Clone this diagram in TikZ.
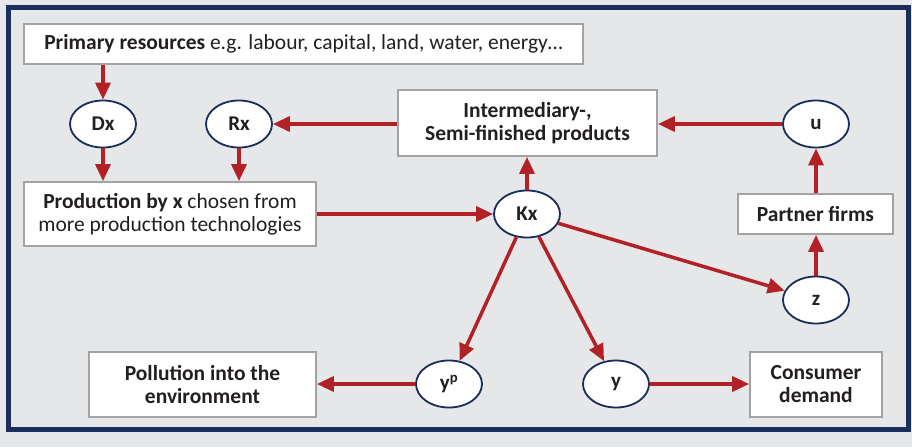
\documentclass[tikz,border=0pt]{standalone}
\usepackage{fontspec}
\setmainfont{Carlito}
\usetikzlibrary{arrows.meta,shapes.geometric}
\definecolor{bg}{HTML}{E6E7E9}
\definecolor{navy}{HTML}{1B2D5B}
\definecolor{arr}{HTML}{B22126}
\definecolor{boxline}{HTML}{A3A3A3}
\definecolor{txt}{HTML}{231F20}
\begin{document}
\begin{tikzpicture}[x=1pt,y=-1pt,
 box/.style={draw=boxline, line width=1.8pt, fill=white, inner sep=0pt, text=txt, align=center, font=\fontsize{21.5}{23}\selectfont},
 bbox/.style={box, font=\bfseries\fontsize{21.5}{23}\selectfont},
 ell/.style={ellipse, draw=navy, line width=1.8pt, fill=white, minimum width=66pt, minimum height=47pt, inner sep=0pt, font=\bfseries\fontsize{21}{22}\selectfont, text=txt},
 conn/.style={draw=arr, line width=3.5pt, -{Triangle[length=17pt,width=15pt]}}]
\fill[bg] (0,0) rectangle (912,447);
\useasboundingbox (0,0) rectangle (912,447);
\draw[navy, line width=5pt] (8.5,7.5) rectangle (908.5,429.5);

\node[box, minimum width=559pt, minimum height=40pt] (prim) at (303.5,44) {\textbf{Primary resources} e.g. labour, capital, land, water, energy…};
\node[box, minimum width=292pt, minimum height=64pt] (prod) at (170,214) {\textbf{Production by x} chosen from\\more production technologies};
\node[bbox, minimum width=259pt, minimum height=66pt] (inter) at (527.5,123) {Intermediary-,\\Semi-finished products};
\node[bbox, minimum width=155pt, minimum height=40pt] (partner) at (815.5,214) {Partner firms};
\node[bbox, minimum width=227pt, minimum height=65pt] (poll) at (202.5,384.5) {Pollution into the\\environment};
\node[bbox, minimum width=132pt, minimum height=65pt] (cons) at (816,384.5) {Consumer\\demand};

\node[ell] (Dx) at (103,124) {Dx};
\node[ell] (Rx) at (239,124) {Rx};
\node[ell] (Kx) at (527,214) {Kx};
\node[ell] (u) at (816,124) {u};
\node[ell] (z) at (816,300) {z};
\node[ell] (yp) at (449,384) {y\textsuperscript{p}};
\node[ell] (y) at (616,384) {y};

\draw[conn] (Dx |- prim.south) -- (Dx.north);
\draw[conn] (Dx.south) -- (Dx |- prod.north);
\draw[conn] (Rx.south) -- (Rx |- prod.north);
\draw[conn] (inter.west |- Rx) -- (Rx.east);
\draw[conn] (u.west) -- (inter.east |- u);
\draw[conn] (prod.east |- Kx) -- (Kx.west);
\draw[conn] (Kx.north) -- (Kx |- inter.south);
\draw[conn] (Kx) -- (z);
\draw[conn] (Kx) -- (yp);
\draw[conn] (Kx) -- (y);
\draw[conn] (yp.west) -- (poll.east |- yp);
\draw[conn] (y.east) -- (cons.west |- y);
\draw[conn] (z.north) -- (z |- partner.south);
\draw[conn] (u |- partner.north) -- (u.south);
\end{tikzpicture}
\end{document}
